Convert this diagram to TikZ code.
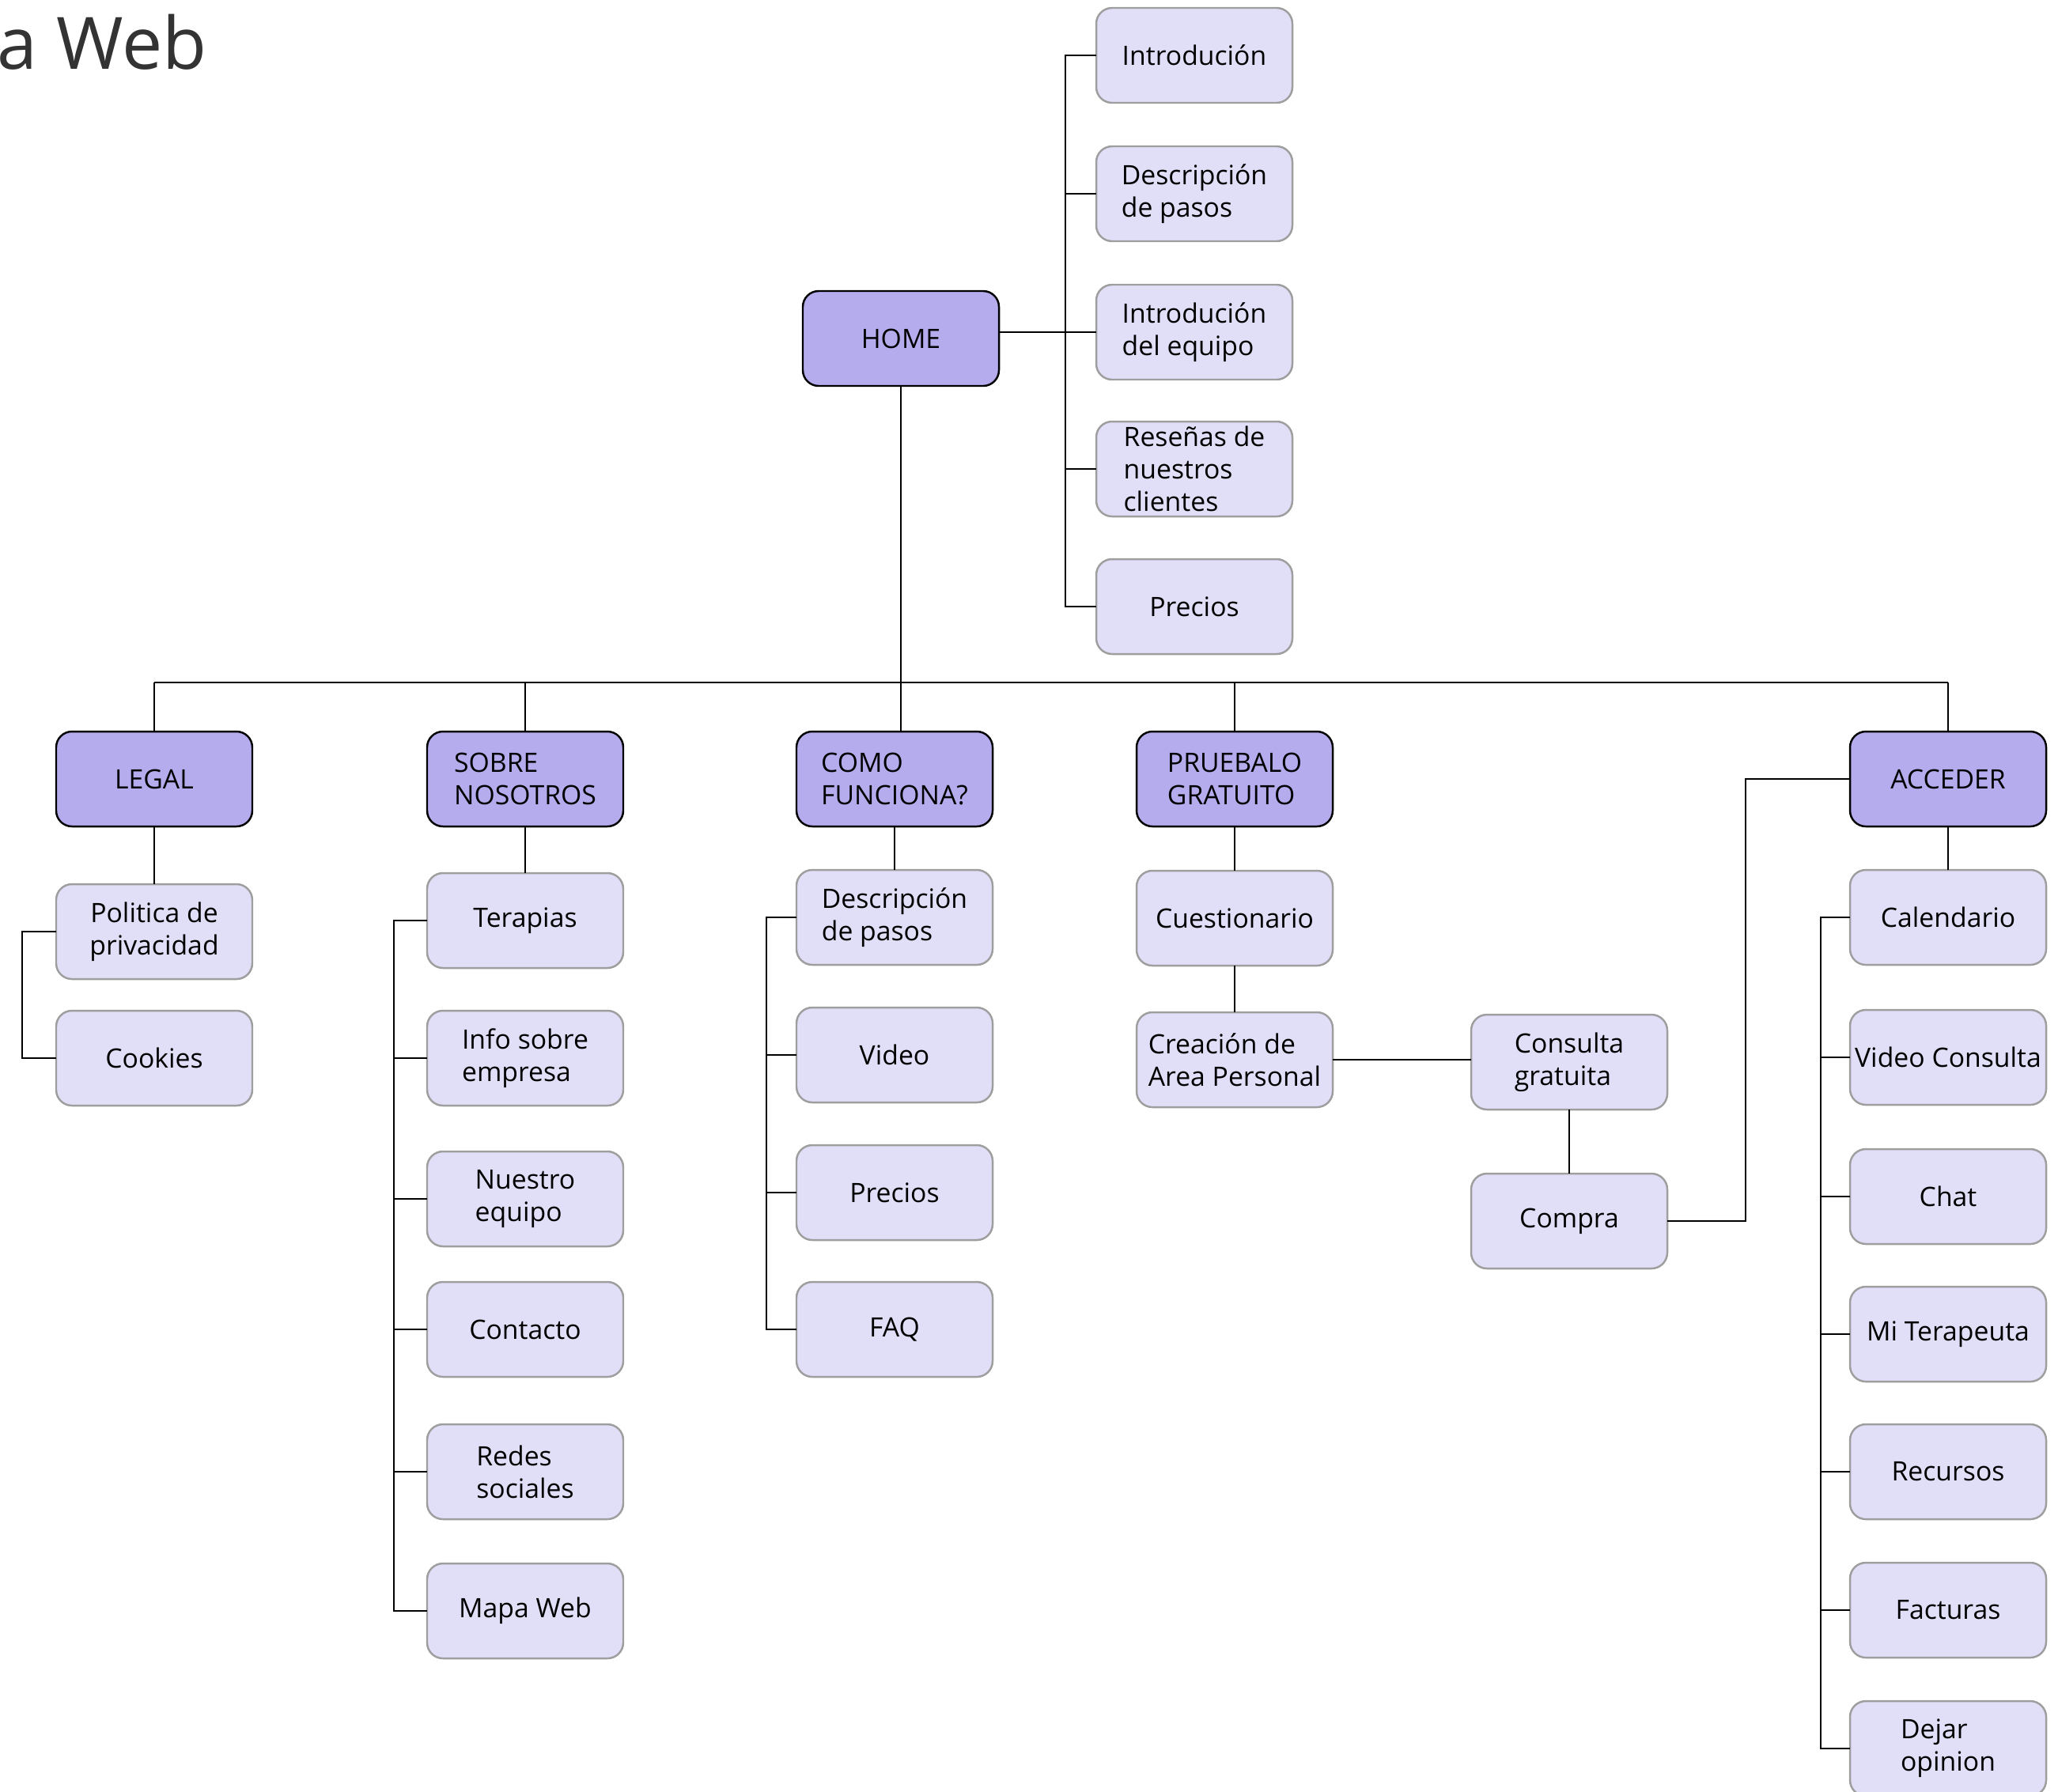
\documentclass[tikz,border=0pt]{standalone}
\usepackage{fontspec}
\setmainfont{Open Sans}
\usepackage{xcolor}
\usetikzlibrary{positioning,calc}

\definecolor{headfill}{HTML}{B5ACEE}
\definecolor{itemfill}{HTML}{E1DEF8}
\definecolor{itemline}{HTML}{9E9E9E}
\definecolor{titlegray}{HTML}{333333}

\begin{document}
\begin{tikzpicture}[
    font=\fontsize{9.6}{11.6}\selectfont,
    node distance=0.55cm,
    head/.style={draw=black, line width=0.7pt, fill=headfill, rounded corners=0.2cm, minimum width=2.48cm, minimum height=1.2cm, inner xsep=0pt, inner ysep=0pt, outer sep=0pt, align=center},
    item/.style={draw=itemline, line width=0.7pt, fill=itemfill, rounded corners=0.2cm, minimum width=2.48cm, minimum height=1.2cm, inner xsep=0pt, inner ysep=0pt, outer sep=0pt, align=center},
    link/.style={draw=black, line width=0.6pt}
]
\useasboundingbox (0,0) rectangle (26.02,-22.65);

% titulo
\node[anchor=base west, inner sep=0pt, text=titlegray, font=\fontsize{26}{30}\selectfont] (title) at (-0.04,-0.87) {a Web};

% HOME y sus secciones
\node[head] (home) at (11.39,-4.28) {HOME};
\node[item] (intro) at (15.10,-0.70) {Introdución};
\node[item, align=left, below=0.55cm of intro] (pasos) {Descripción\\de pasos};
\node[item, align=left, below=0.55cm of pasos] (equipo) {Introdución\\del equipo};
\node[item, align=left, below=0.53cm of equipo] (resenas) {Reseñas de\\nuestros\\clientes};
\node[item, below=0.54cm of resenas] (precios) {Precios};

% menu principal
\coordinate (bus) at (0,-8.63);
\node[head] (legal) at (1.95,-9.85) {LEGAL};
\node[head, align=left] (sobre) at (6.64,-9.85) {SOBRE\\NOSOTROS};
\node[head, align=left] (como) at (11.31,-9.85) {COMO\\FUNCIONA?};
\node[head, align=left] (pruebalo) at (15.61,-9.85) {PRUEBALO\\GRATUITO};
\node[head] (acceder) at (24.63,-9.85) {ACCEDER};

% LEGAL
\node[item, below=0.73cm of legal] (politica) {Politica de\\privacidad};
\node[item, below=0.40cm of politica] (cookies) {Cookies};

% SOBRE NOSOTROS
\node[item, below=0.59cm of sobre] (terapias) {Terapias};
\node[item, align=left, below=0.54cm of terapias] (info) {Info sobre\\empresa};
\node[item, align=left, below=0.58cm of info] (nuestro) {Nuestro\\equipo};
\node[item, below=0.45cm of nuestro] (contacto) {Contacto};
\node[item, align=left, below=0.60cm of contacto] (redes) {Redes\\sociales};
\node[item, below=0.56cm of redes] (mapa) {Mapa Web};

% COMO FUNCIONA?
\node[item, align=left, below=0.55cm of como] (comopasos) {Descripción\\de pasos};
\node[item, below=0.54cm of comopasos] (video) {Video};
\node[item, below=0.54cm of video] (comoprecios) {Precios};
\node[item, below=0.53cm of comoprecios] (faq) {FAQ};

% PRUEBALO GRATUITO
\node[item, below=0.56cm of pruebalo] (cuestionario) {Cuestionario};
\node[item, align=left, below=0.59cm of cuestionario] (creacion) {Creación de\\Area Personal};
\node[item, align=left] (consulta) at (19.84,-13.43) {Consulta\\gratuita};
\node[item, below=0.81cm of consulta] (compra) {Compra};

% ACCEDER
\node[item, below=0.55cm of acceder] (calendario) {Calendario};
\node[item, below=0.57cm of calendario] (videoconsulta) {Video Consulta};
\node[item, below=0.56cm of videoconsulta] (chat) {Chat};
\node[item, below=0.54cm of chat] (miterapeuta) {Mi Terapeuta};
\node[item, below=0.54cm of miterapeuta] (recursos) {Recursos};
\node[item, below=0.55cm of recursos] (facturas) {Facturas};
\node[item, align=left, below=0.55cm of facturas] (opinion) {Dejar\\opinion};

% barras de conexion
\coordinate (topbar) at (13.47,0);
\coordinate (legbar) at (0.28,0);
\coordinate (sobbar) at (4.98,0);
\coordinate (comobar) at (9.69,0);
\coordinate (accbar) at (23.02,0);
\coordinate (turn) at (22.07,-9.85);

% lineas HOME
\draw[link] (equipo.west -| home.east) -- (equipo.west);
\draw[link] (intro.west) -- (intro.west -| topbar) |- (precios.west);
\foreach \n in {pasos,resenas}
    \draw[link] (\n.west) -- (\n.west -| topbar);
\draw[link] (home.south) -- (home.south |- como.north);
\draw[link] (legal.north |- bus) -- (acceder.north |- bus);
\foreach \n in {legal,sobre,pruebalo,acceder}
    \draw[link] (\n.north) -- (\n.north |- bus);

% lineas LEGAL
\draw[link] (legal) -- (politica);
\draw[link] (politica.west) -- (politica.west -| legbar) |- (cookies.west);

% lineas SOBRE NOSOTROS
\draw[link] (sobre) -- (terapias);
\draw[link] (terapias.west) -- (terapias.west -| sobbar) |- (mapa.west);
\foreach \n in {info,nuestro,contacto,redes}
    \draw[link] (\n.west) -- (\n.west -| sobbar);

% lineas COMO FUNCIONA?
\draw[link] (como) -- (comopasos);
\draw[link] (comopasos.west) -- (comopasos.west -| comobar) |- (faq.west);
\foreach \n in {video,comoprecios}
    \draw[link] (\n.west) -- (\n.west -| comobar);

% lineas PRUEBALO GRATUITO
\draw[link] (pruebalo) -- (cuestionario);
\draw[link] (cuestionario) -- (creacion);
\draw[link] (creacion.east) -- (creacion.east -| consulta.west);
\draw[link] (consulta) -- (compra);
\draw[link] (compra.east) -| (turn) -- (acceder.west);

% lineas ACCEDER
\draw[link] (acceder) -- (calendario);
\draw[link] (calendario.west) -- (calendario.west -| accbar) |- (opinion.west);
\foreach \n in {videoconsulta,chat,miterapeuta,recursos,facturas}
    \draw[link] (\n.west) -- (\n.west -| accbar);

\end{tikzpicture}
\end{document}
